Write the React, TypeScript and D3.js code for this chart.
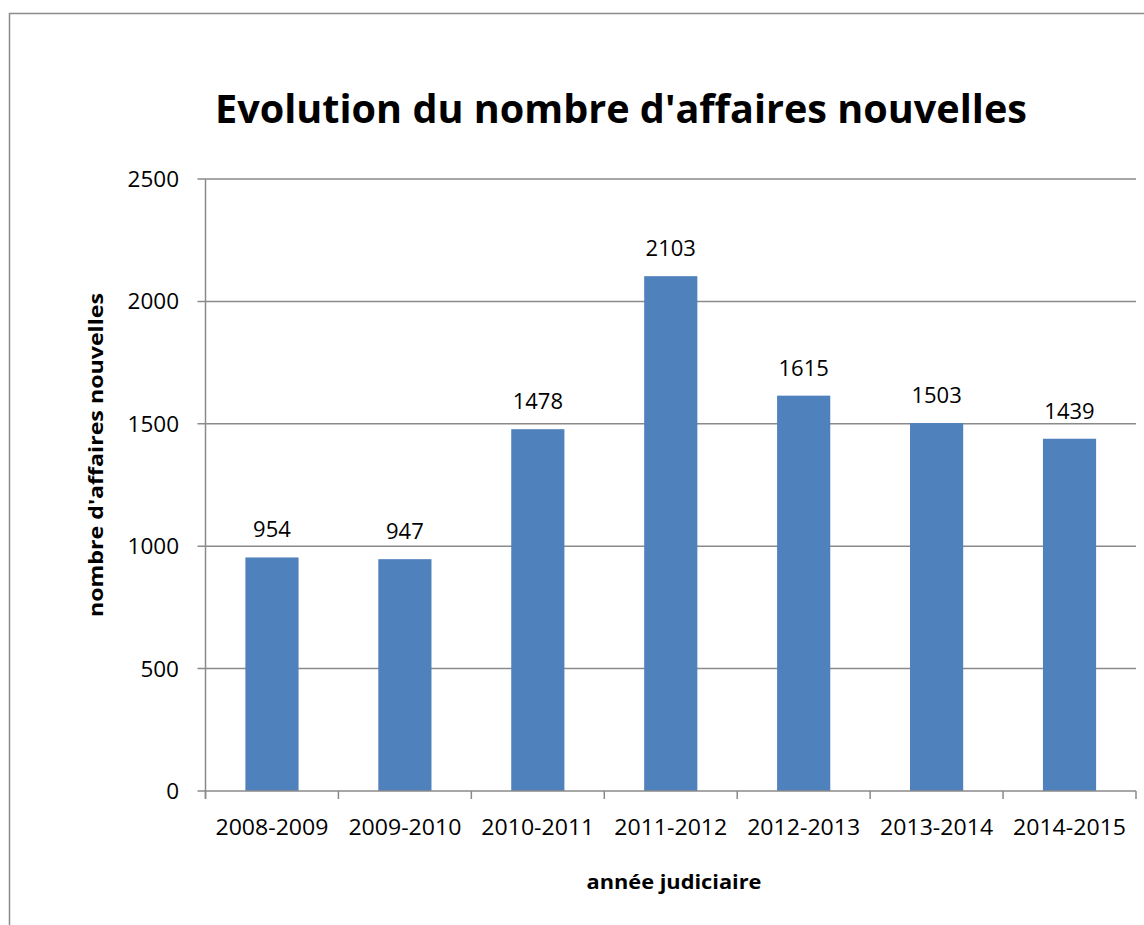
import React, { useRef, useEffect } from 'react';
import * as d3 from 'd3';

const categories = ['2008-2009', '2009-2010', '2010-2011', '2011-2012', '2012-2013', '2013-2014', '2014-2015'];
const values = [954, 947, 1478, 2103, 1615, 1503, 1439];
const yTicks = [0, 500, 1000, 1500, 2000, 2500];

const TITLE = "Evolution du nombre d'affaires nouvelles";
const Y_TITLE = "nombre d'affaires nouvelles";
const X_TITLE = 'année judiciaire';

export default function App() {
  const ref = useRef<SVGSVGElement>(null);
  const WIDTH = 1144;
  const HEIGHT = 925;
  const LEFT = 205.5;
  const RIGHT = 1136;
  const TOP = 179;
  const BOTTOM = 791;
  const FONT = "'Open Sans', 'Noto Sans', sans-serif";
  const GRID = '#8a8a8a';

  useEffect(() => {
    const svg = d3.select(ref.current);
    svg.selectAll('*').remove();

    const x = d3.scaleBand().domain(categories).range([LEFT, RIGHT]).paddingInner(0.6).paddingOuter(0.3);
    const xEdges = d3.scaleLinear().domain([0, categories.length]).range([LEFT, RIGHT]);
    const y = d3.scaleLinear().domain([0, 2500]).range([BOTTOM, TOP]);

    // outer frame (right and bottom sides fall off the picture)
    svg.append('rect')
      .attr('x', 9.5).attr('y', 13.5)
      .attr('width', WIDTH + 20).attr('height', HEIGHT + 20)
      .attr('fill', 'white').attr('stroke', '#8c8c8c').attr('stroke-width', 1.5);

    // gridlines
    svg.append('g')
      .selectAll('line')
      .data(yTicks.filter(t => t > 0))
      .join('line')
      .attr('x1', LEFT - 8).attr('x2', RIGHT)
      .attr('y1', d => y(d)).attr('y2', d => y(d))
      .attr('stroke', GRID).attr('stroke-width', 1.5);

    // bars
    svg.append('g')
      .selectAll('rect')
      .data(values)
      .join('rect')
      .attr('x', (_, i) => x(categories[i]) as number)
      .attr('width', x.bandwidth())
      .attr('y', d => y(d))
      .attr('height', d => BOTTOM - y(d))
      .attr('fill', '#4f81bd');

    // value labels
    svg.append('g')
      .selectAll('text')
      .data(values)
      .join('text')
      .attr('x', (_, i) => (x(categories[i]) as number) + x.bandwidth() / 2)
      .attr('y', d => y(d) - 20)
      .attr('text-anchor', 'middle')
      .attr('font-family', FONT).attr('font-size', 22)
      .text(d => d);

    // y axis
    const yAxis = svg.append('g');
    yAxis.append('line')
      .attr('x1', LEFT).attr('x2', LEFT).attr('y1', TOP).attr('y2', BOTTOM + 8)
      .attr('stroke', GRID).attr('stroke-width', 1.5);
    yAxis.append('line')
      .attr('x1', LEFT - 8).attr('x2', LEFT).attr('y1', BOTTOM).attr('y2', BOTTOM)
      .attr('stroke', GRID).attr('stroke-width', 1.5);
    yAxis.selectAll('text')
      .data(yTicks)
      .join('text')
      .attr('x', 179).attr('y', d => y(d) + 8)
      .attr('text-anchor', 'end')
      .attr('font-family', FONT).attr('font-size', 22.5)
      .text(d => d);

    // x axis
    const xAxis = svg.append('g');
    xAxis.append('line')
      .attr('x1', LEFT).attr('x2', RIGHT).attr('y1', BOTTOM).attr('y2', BOTTOM)
      .attr('stroke', GRID).attr('stroke-width', 1.5);
    xAxis.selectAll('line.tick')
      .data(d3.range(categories.length + 1))
      .join('line')
      .attr('class', 'tick')
      .attr('x1', d => xEdges(d)).attr('x2', d => xEdges(d))
      .attr('y1', BOTTOM).attr('y2', BOTTOM + 8)
      .attr('stroke', GRID).attr('stroke-width', 1.5);
    xAxis.selectAll('text')
      .data(categories)
      .join('text')
      .attr('x', d => (x(d) as number) + x.bandwidth() / 2)
      .attr('y', 835)
      .attr('text-anchor', 'middle')
      .attr('font-family', FONT).attr('font-size', 22.5)
      .attr('textLength', 113).attr('lengthAdjust', 'spacingAndGlyphs')
      .text(d => d);

    // titles
    svg.append('text')
      .attr('x', 215).attr('y', 123)
      .attr('font-family', FONT).attr('font-weight', 'bold').attr('font-size', 40)
      .attr('textLength', 812).attr('lengthAdjust', 'spacingAndGlyphs')
      .text(TITLE);

    svg.append('text')
      .attr('transform', 'translate(103,455) rotate(-90)')
      .attr('text-anchor', 'middle')
      .attr('font-family', FONT).attr('font-weight', 'bold').attr('font-size', 19)
      .attr('textLength', 324).attr('lengthAdjust', 'spacingAndGlyphs')
      .text(Y_TITLE);

    svg.append('text')
      .attr('x', 674).attr('y', 889)
      .attr('text-anchor', 'middle')
      .attr('font-family', FONT).attr('font-weight', 'bold').attr('font-size', 19.5)
      .attr('textLength', 175).attr('lengthAdjust', 'spacingAndGlyphs')
      .text(X_TITLE);
  }, []);

  return (
    <svg
      ref={ref}
      width={WIDTH}
      height={HEIGHT}
      style={{ position: 'absolute', left: 0, top: 0, background: 'white' }}
    />
  );
}
